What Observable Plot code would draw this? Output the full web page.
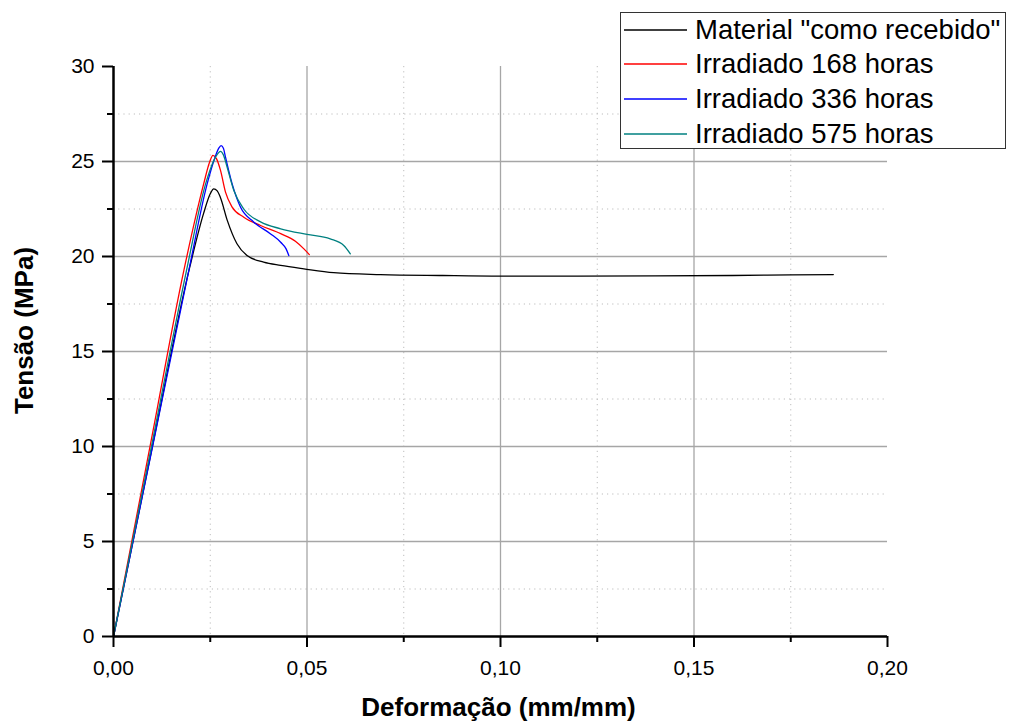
<!DOCTYPE html>
<html>
<head>
<meta charset="utf-8">
<script src="https://cdn.jsdelivr.net/npm/d3@7"></script>
<script src="https://cdn.jsdelivr.net/npm/@observablehq/plot@0.6"></script>
<style>
  body { margin: 0; background: #fff; }
  #chart { position: relative; width: 1011px; height: 724px; font-family: "Liberation Sans", Arial, sans-serif; }
  #legend {
    position: absolute; left: 620px; top: 12px; width: 386px; height: 137px;
    border: 1px solid #333; background: #fff; box-sizing: border-box;
  }
  .row { position: absolute; left: 0; height: 34px; display: flex; align-items: center; }
  .row svg { margin-left: 3px; margin-right: 8px; }
  .row span { font-size: 27.5px; color: #000; white-space: nowrap; }
</style>
</head>
<body>
<div id="chart"><div id="legend"></div></div>
<script>
// Tensile curves: strain (mm/mm) vs stress (MPa)
const seriesNames = ["Material \"como recebido\"", "Irradiado 168 horas", "Irradiado 336 horas", "Irradiado 575 horas"];
const seriesColors = ["#000000", "#ff0000", "#0000ff", "#008080"];

const strainRecebido = [0, 0.010, 0.0197, 0.0233, 0.0250, 0.0259, 0.0268, 0.0276, 0.0294, 0.0319, 0.0345, 0.0388, 0.0432, 0.0492, 0.0569, 0.069, 0.085, 0.100, 0.120, 0.140, 0.160, 0.175, 0.186];
const stressRecebido = [0, 9.95, 19.44, 22.28, 23.3, 23.56, 23.45, 23.12, 21.9, 20.67, 20.05, 19.7, 19.53, 19.35, 19.15, 19.05, 19.0, 18.97, 18.97, 18.98, 19.0, 19.03, 19.05];

const strain168 = [0, 0.010, 0.01817, 0.0233, 0.0248, 0.0257, 0.0266, 0.02765, 0.02894, 0.03066, 0.03367, 0.0380, 0.0432, 0.0470, 0.0492, 0.0506];
const stress168 = [0, 10.6, 19.26, 23.82, 24.95, 25.32, 25.15, 24.53, 23.39, 22.6, 22.07, 21.63, 21.2, 20.8, 20.4, 20.1];

const strain336 = [0, 0.010, 0.01945, 0.0242, 0.0262, 0.0272, 0.0278, 0.0284, 0.02894, 0.03066, 0.0328, 0.0362, 0.0406, 0.0432, 0.0446, 0.0453];
const stress336 = [0, 9.9, 19.26, 23.82, 25.2, 25.7, 25.84, 25.7, 25.23, 23.82, 22.6, 21.82, 21.19, 20.75, 20.4, 20.05];

const strain575 = [0, 0.010, 0.01886, 0.0238, 0.0258, 0.0269, 0.02765, 0.0284, 0.02937, 0.0311, 0.03367, 0.0380, 0.0432, 0.0500, 0.0560, 0.0595, 0.0612];
const stress575 = [0, 10.2, 19.26, 23.82, 25.0, 25.4, 25.53, 25.35, 24.7, 23.47, 22.5, 21.82, 21.46, 21.16, 20.93, 20.58, 20.14];

const xMajorTicks = [0, 0.05, 0.10, 0.15, 0.20];
const xMinorTicks = [0.025, 0.075, 0.125, 0.175];
const yMajorTicks = [0, 5, 10, 15, 20, 25, 30];
const yMinorTicks = [2.5, 7.5, 12.5, 17.5, 22.5, 27.5];
const xGridMajor = [0.05, 0.10, 0.15];
const yGridMajor = [5, 10, 15, 20, 25];

const strains = [strainRecebido, strain168, strain336, strain575];
const stresses = [stressRecebido, stress168, stress336, stress575];

const commaFmt = d => d.toFixed(2).replace(".", ",");

const minorGrid = {stroke: "#bdbdbd", strokeOpacity: 1, strokeWidth: 1, strokeDasharray: "1.2,4"};
const majorGrid = {stroke: "#a6a6a6", strokeOpacity: 1, strokeWidth: 1.3};

const curves = strains.map((xs, k) =>
  Plot.line({length: xs.length}, {
    x: xs, y: stresses[k], stroke: seriesColors[k], strokeWidth: 1.3, curve: "monotone-x"
  })
);

const chart = Plot.plot({
  width: 1011,
  height: 724,
  marginLeft: 113,
  marginRight: 124,
  marginTop: 66,
  marginBottom: 88,
  style: {fontFamily: "\"Liberation Sans\", Arial, sans-serif", fontSize: "21px", color: "#000", background: "#fff"},
  x: {domain: [0, 0.2]},
  y: {domain: [0, 30]},
  marks: [
    Plot.gridX(xMinorTicks, minorGrid),
    Plot.gridY(yMinorTicks, minorGrid),
    Plot.gridX(xGridMajor, majorGrid),
    Plot.gridY(yGridMajor, majorGrid),
    ...curves,
    Plot.axisX(xMinorTicks, {tickSize: 6, strokeWidth: 2, tickFormat: () => "", label: null}),
    Plot.axisX(xMajorTicks, {tickSize: 11, tickPadding: 13, strokeWidth: 2, tickFormat: commaFmt, label: null, fontSize: 21}),
    Plot.axisY(yMinorTicks, {tickSize: 6, strokeWidth: 2, tickFormat: () => "", label: null}),
    Plot.axisY(yMajorTicks, {tickSize: 11, tickPadding: 8, strokeWidth: 2, tickFormat: d => String(d), label: null, fontSize: 21}),
    Plot.ruleY([0], {stroke: "#000", strokeWidth: 2.5}),
    Plot.ruleX([0], {stroke: "#000", strokeWidth: 2.5}),
    Plot.text(["Deformação (mm/mm)"], {
      frameAnchor: "bottom", textAnchor: "middle", lineAnchor: "middle",
      dy: 71, dx: -2, fontWeight: "bold", fontSize: 26, fill: "#000"
    }),
    Plot.text(["Tensão (MPa)"], {
      frameAnchor: "left", textAnchor: "middle", lineAnchor: "middle",
      dx: -89, dy: -21, rotate: -90, fontWeight: "bold", fontSize: 26, fill: "#000"
    })
  ]
});
document.getElementById("chart").prepend(chart);

// Legend box drawn as HTML over the chart
const legend = document.getElementById("legend");
const rowTops = [0, 34, 69, 104];
seriesNames.forEach((name, k) => {
  const row = document.createElement("div");
  row.className = "row";
  row.style.top = rowTops[k] + "px";
  row.innerHTML = `<svg width="63" height="4"><line x1="0" y1="2" x2="63" y2="2" stroke="${seriesColors[k]}" stroke-width="1.4"/></svg><span>${name.replace(/"/g, "&quot;")}</span>`;
  legend.appendChild(row);
});
</script>
</body>
</html>
